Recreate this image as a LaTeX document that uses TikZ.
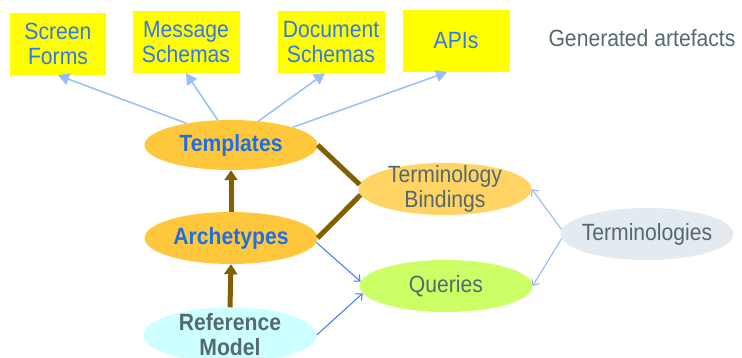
\documentclass[tikz,border=0pt]{standalone}
\usepackage{fontspec}
\setmainfont{Liberation Sans}[FakeStretch=0.9]
\usetikzlibrary{shapes.geometric,arrows.meta}
\definecolor{boxyellow}{RGB}{255,255,0}
\definecolor{linkblue}{RGB}{50,120,230}
\definecolor{boldblue}{RGB}{30,110,230}
\definecolor{greytext}{RGB}{85,105,110}
\definecolor{tplfill}{RGB}{255,200,60}
\definecolor{tbfill}{RGB}{255,212,100}
\definecolor{qryfill}{RGB}{204,255,102}
\definecolor{termfill}{RGB}{228,235,240}
\definecolor{reffill}{RGB}{204,255,255}
\definecolor{brownline}{RGB}{128,96,0}
\definecolor{genblue}{RGB}{150,190,255}
\definecolor{usesblue}{RGB}{60,120,255}
\definecolor{termblue}{RGB}{140,180,255}

\begin{document}
\begin{tikzpicture}[x=1pt,y=-1pt]
\tikzstyle{artefact}=[fill=boxyellow,text=linkblue,align=center,font=\fontsize{23.5}{25}\selectfont,minimum width=107pt,minimum height=62pt,inner sep=0pt]
\tikzstyle{bubble}=[ellipse,minimum width=173pt,minimum height=52pt,inner sep=0pt]
\tikzstyle{caption}=[align=center,font=\fontsize{23.5}{25}\selectfont,text=greytext]
\tikzstyle{heading}=[align=center,font=\fontsize{23.5}{25}\selectfont\bfseries,text=boldblue]
\tikzstyle{gen}=[line width=1.5pt,draw=genblue,-{Triangle[length=11pt,width=12pt]}]
\tikzstyle{uses}=[line width=1pt,-{Straight Barb[length=5pt,width=9pt]}]
\tikzstyle{build}=[line width=5pt,draw=brownline]

\useasboundingbox (0,0) rectangle (742,358);
%\draw [help lines,step=50] (0,0) grid (742,358);

\node (sf) [artefact,minimum width=96pt] at (58,44) {Screen\\Forms};
\node (ms) [artefact] at (186,42) {Message\\Schemas};
\node (ds) [artefact] at (331,42) {Document\\Schemas};
\node (api) [artefact] at (456,41) {APIs};
\node (note) [caption] at (642,38) {Generated artefacts};

\node (tpl) [bubble,fill=tplfill,minimum height=50pt,label={[heading]center:Templates}] at (231,145) {};
\node (arch) [bubble,fill=tplfill,label={[heading]center:Archetypes}] at (231,238) {};
\node (ref) [bubble,fill=reffill,minimum height=55pt,label={[heading,text=greytext]center:{Reference\\Model}}] at (230,335) {};
\node (tb) [bubble,fill=tbfill,label={[caption]center:{Terminology\\Bindings}}] at (445,189) {};
\node (qry) [bubble,fill=qryfill,label={[caption]center:Queries}] at (446,286) {};
\node (term) [bubble,fill=termfill,label={[caption]center:Terminologies}] at (647,234) {};

\draw [gen] (tpl.154) -- (sf.south);
\draw [gen] (tpl.118) -- (ms.south);
\draw [gen] (tpl.41) -- ([xshift=-6pt]ds.south);
\draw [gen] (tpl.16) -- ([xshift=-9pt]api.south);

\draw [build,-{Triangle[length=10pt,width=13pt]}] (arch.north) -- (tpl.south);
\draw [build,-{Triangle[length=10pt,width=13pt]}] (ref.north) -- (arch.south);
\draw [build] (tpl.east) -- (tb.177);
\draw [build] (arch.east) -- (tb.184);

\draw [uses,draw=usesblue] (arch.357) -- (qry.177);
\draw [uses,draw=usesblue] (ref.east) -- (qry.185);
\draw [uses,draw=termblue] (term.177) -- (tb.east);
\draw [uses,draw=termblue] (term.183) -- (qry.east);

\end{tikzpicture}
\end{document}
